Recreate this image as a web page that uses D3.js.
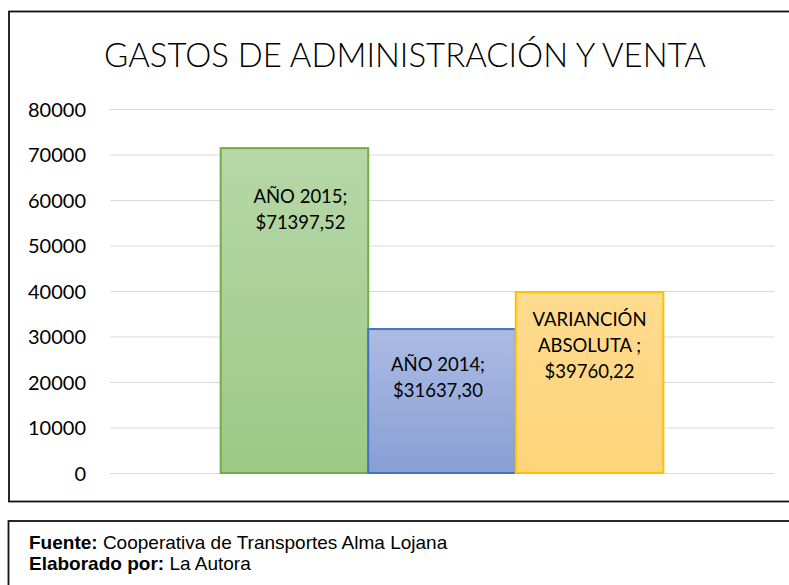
<!DOCTYPE html>
<html>
<head>
<meta charset="utf-8">
<script src="https://cdn.jsdelivr.net/npm/d3@7"></script>
<style>
  html, body { margin: 0; padding: 0; background: #fff; }
  svg { display: block; }
</style>
</head>
<body>
<div id="chart"></div>
<script>
// data
const categories = ["GASTOS"];
const seriesNames = ["AÑO 2015", "AÑO 2014", "VARIANCIÓN ABSOLUTA "];
const seriesValues = [71397.52, 31637.30, 39760.22];
const labelLines = [
  ["AÑO 2015;", "$71397,52"],
  ["AÑO 2014;", "$31637,30"],
  ["VARIANCIÓN", "ABSOLUTA ;", "$39760,22"]
];
const yTicks = [0, 10000, 20000, 30000, 40000, 50000, 60000, 70000, 80000];
const title = "GASTOS DE ADMINISTRACIÓN Y VENTA";
const notes = [
  ["Fuente:", " Cooperativa de Transportes Alma Lojana"],
  ["Elaborado por:", " La Autora"]
];

const W = 789, H = 585;
const margin = { top: 109, right: 15, bottom: 112, left: 110 };
const width = W - margin.left - margin.right;
const height = H - margin.top - margin.bottom;

// bar styles
const fills = [["#b6d7a8", "#9dc984"], ["#abbbe3", "#889fd5"], ["#ffdb8f", "#ffd47a"]];
const strokes = ["#70ad47", "#4472c4", "#ffc000"];
// manual label nudges (the labels were dragged in the original)
const labelDx = [6, -4, 0];
const labelDy = [55, 42, 34];

const svg = d3.select("#chart")
  .append("svg")
  .attr("width", W)
  .attr("height", H);

const defs = svg.append("defs");
fills.forEach((f, i) => {
  const g = defs.append("linearGradient")
    .attr("id", `grad${i}`)
    .attr("x1", 0).attr("y1", 0).attr("x2", 0).attr("y2", 1);
  g.append("stop").attr("offset", "0%").attr("stop-color", f[0]);
  g.append("stop").attr("offset", "100%").attr("stop-color", f[1]);
});

// chart frame and footer frame
svg.append("rect")
  .attr("x", 9).attr("y", 11.5)
  .attr("width", 800).attr("height", 490)
  .attr("fill", "none")
  .attr("stroke", "#111")
  .attr("stroke-width", 1.8);

svg.append("rect")
  .attr("x", 8.5).attr("y", 521)
  .attr("width", 800).attr("height", 100)
  .attr("fill", "none")
  .attr("stroke", "#111")
  .attr("stroke-width", 1.8);

// title, fitted to the width it has in the picture
const titleText = svg.append("text")
  .attr("x", 405)
  .attr("y", 67)
  .attr("text-anchor", "middle")
  .style("font-family", "Lato, 'Open Sans', sans-serif")
  .style("font-weight", 300)
  .style("font-size", "32px")
  .attr("fill", "#000")
  .text(title);
const tw = titleText.node().getComputedTextLength();
titleText.style("font-size", `${32 * 602 / tw}px`);

const g = svg.append("g")
  .attr("transform", `translate(${margin.left},${margin.top})`);

const x = d3.scaleBand()
  .domain(categories)
  .range([0, width])
  .paddingInner(0)
  .paddingOuter(0.25);

const xs = d3.scaleBand()
  .domain(seriesNames)
  .range([0, x.bandwidth()])
  .padding(0);

const y = d3.scaleLinear()
  .domain([0, 80000])
  .range([height, 0]);

// grid lines
g.append("g")
  .call(d3.axisLeft(y).tickValues(yTicks).tickSize(-width).tickFormat(""))
  .call(a => a.select(".domain").remove())
  .call(a => a.selectAll("line").attr("stroke", "#d9d9d9").attr("stroke-width", 1.2));

// y axis labels
g.append("g")
  .attr("transform", "translate(-24,0)")
  .call(d3.axisLeft(y).tickValues(yTicks).tickSize(0).tickPadding(0).tickFormat(d => d))
  .call(a => a.select(".domain").remove())
  .call(a => a.selectAll("text")
    .attr("fill", "#000")
    .attr("dy", "0.36em")
    .style("font-family", "Lato, sans-serif")
    .style("font-size", "20px"));

const bars = g.append("g")
  .attr("transform", `translate(${x(categories[0])},0)`);

bars.selectAll("rect")
  .data(seriesValues)
  .join("rect")
  .attr("x", (d, i) => xs(seriesNames[i]))
  .attr("y", d => y(d))
  .attr("width", xs.bandwidth())
  .attr("height", d => y(0) - y(d))
  .attr("fill", (d, i) => `url(#grad${i})`)
  .attr("stroke", (d, i) => strokes[i])
  .attr("stroke-width", 2);

// data labels
bars.selectAll("text.lbl")
  .data(seriesValues)
  .join("text")
  .attr("class", "lbl")
  .attr("text-anchor", "middle")
  .attr("fill", "#000")
  .style("font-family", "Lato, sans-serif")
  .style("font-size", "18.5px")
  .each(function (d, i) {
    const cx = xs(seriesNames[i]) + xs.bandwidth() / 2 + labelDx[i];
    const y0 = y(d) + labelDy[i];
    d3.select(this).selectAll("tspan")
      .data(labelLines[i])
      .join("tspan")
      .attr("x", cx)
      .attr("y", (t, k) => y0 + k * 26)
      .text(t => t);
  });

// footer notes
const noteText = svg.selectAll("text.note")
  .data(notes)
  .join("text")
  .attr("class", "note")
  .attr("x", 29)
  .attr("y", (d, i) => 549 + i * 21)
  .attr("fill", "#000")
  .style("font-family", "'Liberation Sans', Arial, sans-serif")
  .style("font-size", "19px");

noteText.append("tspan")
  .style("font-weight", "bold")
  .text(d => d[0]);
noteText.append("tspan")
  .text(d => d[1]);
</script>
</body>
</html>
